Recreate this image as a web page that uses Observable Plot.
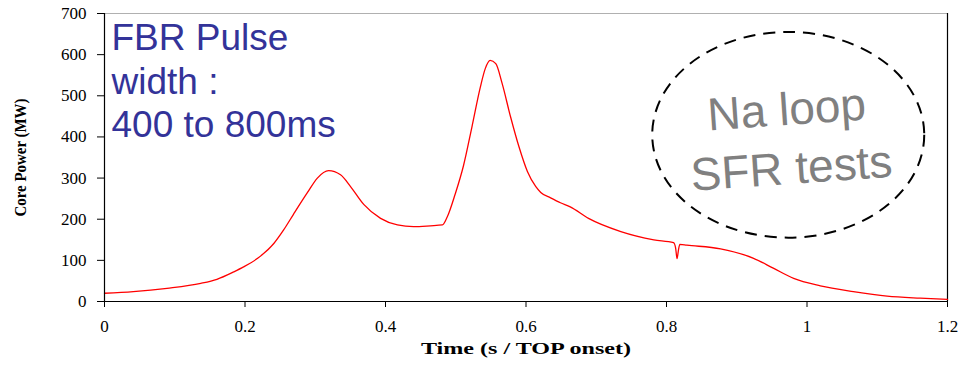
<!DOCTYPE html>
<html>
<head>
<meta charset="utf-8">
<script src="https://cdn.jsdelivr.net/npm/d3@7"></script>
<script src="https://cdn.jsdelivr.net/npm/@observablehq/plot@0.6"></script>
<style>
  html, body { margin: 0; padding: 0; background: #fff; }
  #chart svg { display: block; }
</style>
</head>
<body>
<div id="chart"></div>
<script>
// Time (s / TOP onset)
const times = [0, 0.041, 0.089, 0.137, 0.16, 0.184, 0.198, 0.218, 0.241, 0.255, 0.269, 0.289, 0.303, 0.319, 0.336, 0.35, 0.369, 0.393, 0.417, 0.44, 0.464, 0.481, 0.488, 0.499, 0.511, 0.523, 0.535, 0.542, 0.549, 0.557, 0.566, 0.578, 0.59, 0.602, 0.614, 0.621, 0.635, 0.649, 0.663, 0.689, 0.735, 0.782, 0.81, 0.813, 0.815, 0.817, 0.819, 0.829, 0.877, 0.924, 0.952, 0.981, 1.019, 1.066, 1.114, 1.161, 1.2];
// Core Power (MW)
const power = [20, 24, 32, 44, 54, 72, 84, 105, 141, 174, 212, 265, 300, 318, 308, 280, 236, 202, 186, 182, 184, 186, 206, 260, 330, 424, 521, 566, 586, 578, 530, 449, 376, 316, 279, 265, 252, 240, 230, 202, 170, 150, 143, 130, 104, 125, 139, 137, 128, 105, 81, 56, 38, 24, 13, 8, 5];

const xTicks = [0, 0.2, 0.4, 0.6, 0.8, 1, 1.2];
const xTickLabels = ["0", "0.2", "0.4", "0.6", "0.8", "1", "1.2"];
const yTicks = [0, 100, 200, 300, 400, 500, 600, 700];

const noteLines = ["FBR Pulse", "width :", "400 to 800ms"];
const ellipseNote = { t: 0.974, p: 404, rt: 0.1936, rp: 250 };
const ellipseText = [
  { label: "Na loop", t: 0.971, p: 465 },
  { label: "SFR tests", t: 0.978, p: 322 }
];

const data = times.map((t, i) => ({ t, p: power[i] }));
const serif = "'Liberation Serif', 'Times New Roman', serif";
const sans = "'Liberation Sans', Arial, sans-serif";

const chart = Plot.plot({
  width: 961,
  height: 366,
  marginLeft: 104,
  marginRight: 14,
  marginTop: 13,
  marginBottom: 65,
  style: { fontFamily: serif, background: "#fff" },
  x: { domain: [0, 1.2] },
  y: { domain: [0, 700] },
  marks: [
    Plot.ruleY([700], { stroke: "#b0b0b0", strokeWidth: 1 }),
    Plot.ruleX([1.2], { stroke: "#000", strokeWidth: 1.2 }),
    Plot.line(data, { x: "t", y: "p", stroke: "#ff0000", strokeWidth: 1.3, curve: "monotone-x" }),
    Plot.ruleX([0], { stroke: "#000", strokeWidth: 1.2 }),
    Plot.ruleY([0], { stroke: "#000", strokeWidth: 1.2 }),
    Plot.axisX({ ticks: xTicks, tickFormat: (d) => xTickLabels[xTicks.indexOf(d)], tickSize: 6, tickPadding: 12, fontSize: 17, label: null, stroke: "#000", fill: "#000" }),
    Plot.axisY({ ticks: yTicks, tickSize: 7, tickPadding: 11, fontSize: 17, label: null, stroke: "#000", fill: "#000" }),
    Plot.text(["Time (s / TOP onset)"], { frameAnchor: "bottom", dy: 52, fontSize: 16, fontWeight: "bold", fill: "#000" }),
    Plot.text(["Core Power (MW)"], { frameAnchor: "left", dx: -84, rotate: -90, fontSize: 17, fontWeight: "bold", fill: "#000", textAnchor: "middle" }),
    Plot.text([noteLines.join("\n")], { frameAnchor: "top-left", dx: 7, dy: 6, lineAnchor: "top", lineHeight: 1.17, fontSize: 37, fill: "#333399", fontFamily: sans, textAnchor: "start" }),
    Plot.text(ellipseText, { x: "t", y: "p", text: "label", rotate: -4, fontSize: 46, fill: "#808080", fontFamily: sans, textAnchor: "middle", lineAnchor: "middle" })
  ]
});

// Dashed ellipse annotation placed through the chart scales
const sx = chart.scale("x"), sy = chart.scale("y");
const cx = sx.apply(ellipseNote.t), cy = sy.apply(ellipseNote.p);
const rx = sx.apply(ellipseNote.t + ellipseNote.rt) - cx;
const ry = cy - sy.apply(ellipseNote.p + ellipseNote.rp);
d3.select(chart).append("ellipse")
  .attr("cx", cx).attr("cy", cy).attr("rx", rx).attr("ry", ry)
  .attr("fill", "none").attr("stroke", "#000").attr("stroke-width", 2)
  .attr("stroke-dasharray", "12 8");

// Condensed / stretched axis titles as in the reference
d3.select(chart).selectAll("text").each(function() {
  if (this.textContent === "Core Power (MW)") d3.select(this).attr("textLength", 118).attr("lengthAdjust", "spacingAndGlyphs");
  if (this.textContent === "Time (s / TOP onset)") d3.select(this).attr("textLength", 210).attr("lengthAdjust", "spacingAndGlyphs");
});

document.getElementById("chart").appendChild(chart);
</script>
</body>
</html>
